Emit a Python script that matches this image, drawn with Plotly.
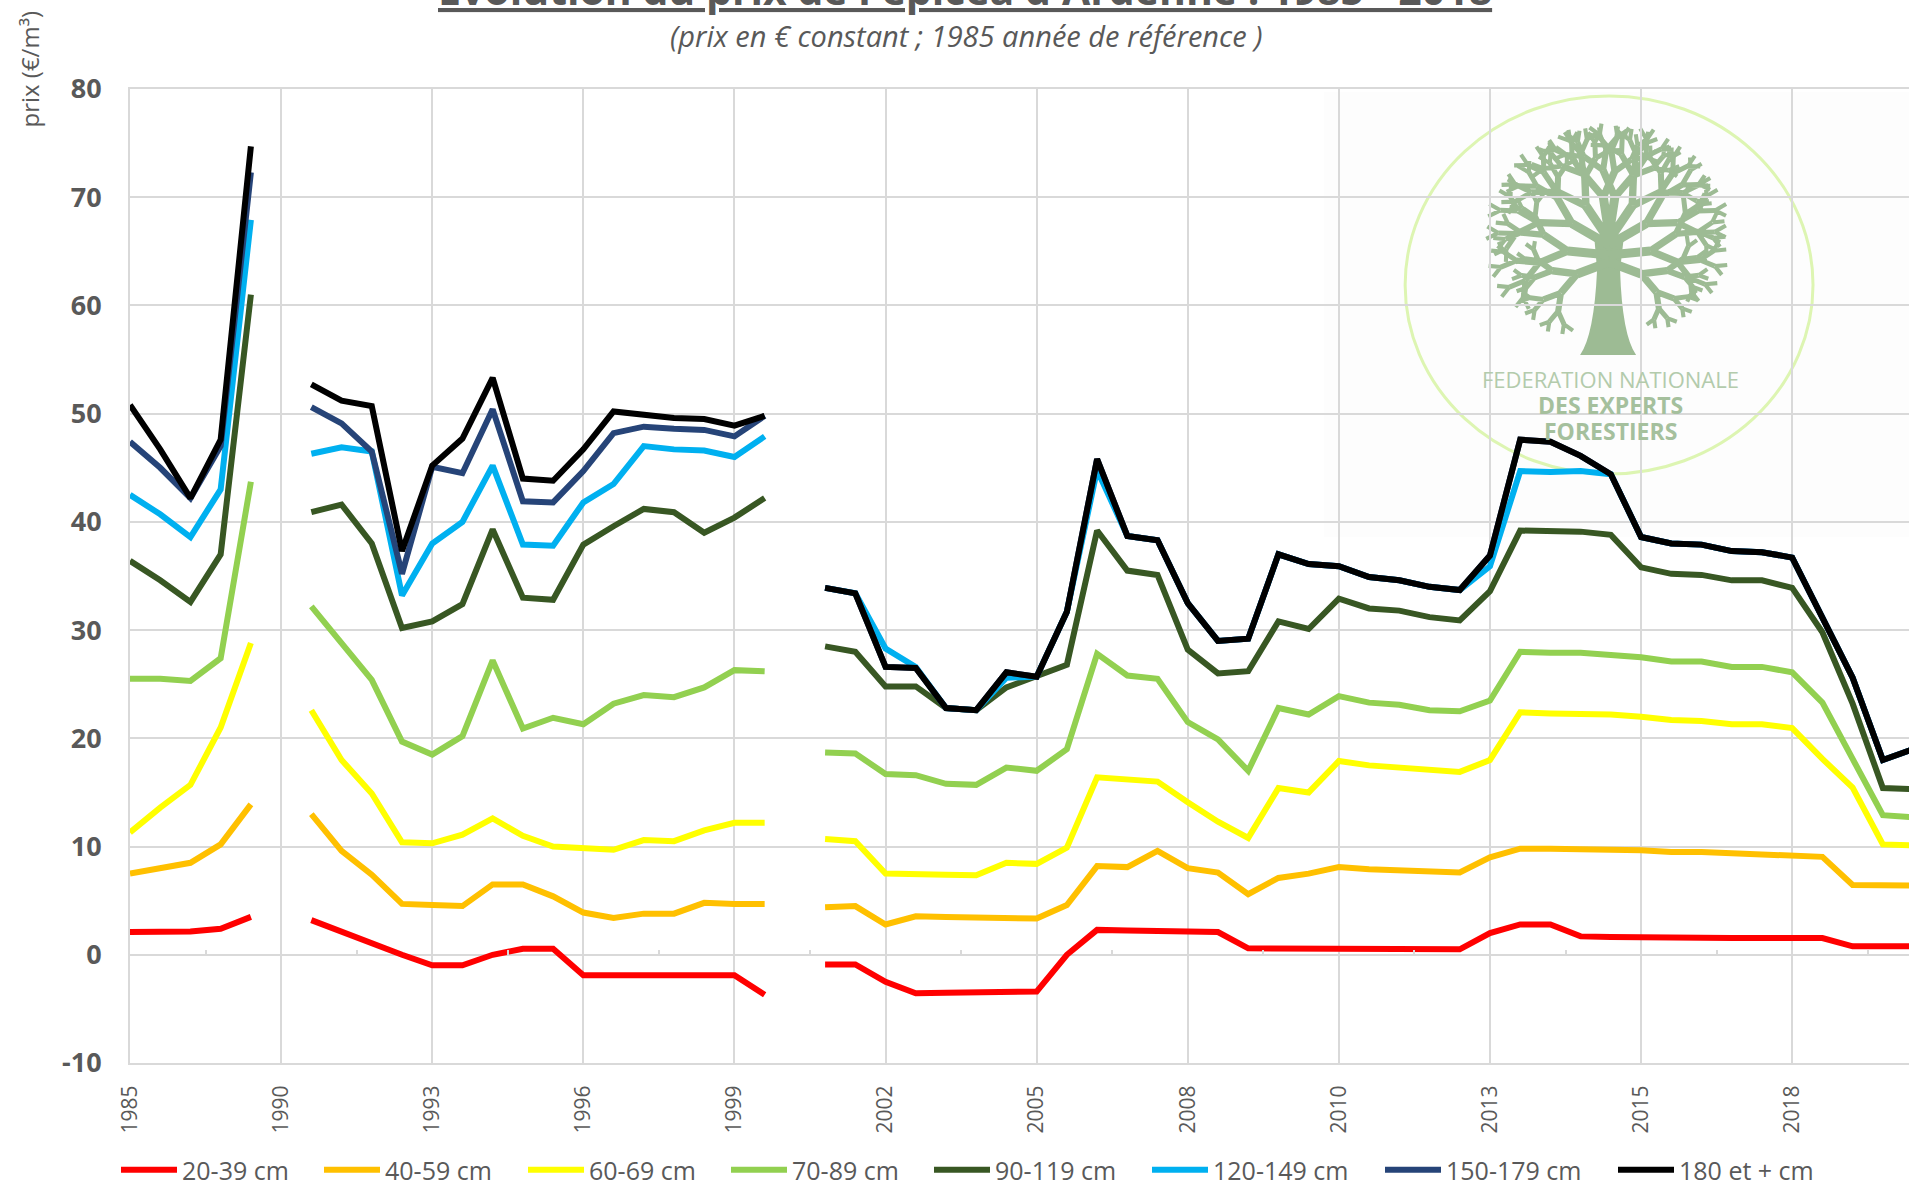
import math
import plotly.graph_objects as go

tick_labels = ["1985","1990","1993","1996","1999","2002","2005","2008","2010","2013","2015","2018"]
tick_index = [0,5,10,15,20,25,30,35,40,45,50,55]
minor_tick_index = [2.5,7.5,12.5,17.5,22.5,27.5,32.5,37.5,42.5,47.5,52.5,57.5]
y_ticks = [-10,0,10,20,30,40,50,60,70,80]
y_tick_labels = ["-10","0","10","20","30","40","50","60","70","80"]
seg1 = list(range(0,5))
seg2 = list(range(6,22))
seg3 = list(range(23,60))
x_index = seg1 + [5] + seg2 + [22] + seg3

red = [2.1,2.15,2.15,2.4,3.5, None,
 3.2,2.1,1.0,0,-0.97,-0.97,0,0.55,0.55,-1.9,-1.9,-1.9,-1.9,-1.9,-1.9,-3.7, None,
 -0.9,-0.9,-2.5,-3.55,-3.5,-3.5,-3.4,-3.4,0,2.3,2.25,2.2,2.15,2.1,0.6,0.6,0.6,0.6,0.55,0.55,0.5,0.5,2.0,2.8,2.8,1.7,1.65,1.6,1.6,1.55,1.55,1.55,1.55,1.55,0.78,0.78,0.78]
orange = [7.5,8.0,8.5,10.2,13.9, None,
 13.0,9.6,7.4,4.7,4.6,4.5,6.5,6.5,5.4,3.9,3.4,3.8,3.8,4.8,4.7,4.7, None,
 4.4,4.5,2.8,3.55,3.5,3.45,3.4,3.35,4.6,8.2,8.1,9.6,8.0,7.6,5.6,7.1,7.5,8.1,7.9,7.8,7.7,7.6,9.0,9.8,9.8,9.8,9.7,9.65,9.5,9.5,9.4,9.35,9.2,9.05,6.45,6.45,6.4]
yellow = [11.3,13.6,15.7,21.0,28.8, None,
 22.6,18.0,14.9,10.4,10.3,11.1,12.6,11.0,10.0,9.8,9.7,10.6,10.5,11.5,12.2,12.2, None,
 10.7,10.5,7.5,7.5,7.4,7.35,8.5,8.4,9.9,16.4,16.2,16.0,14.1,12.3,10.8,15.4,15.0,17.9,17.5,17.3,17.0,16.9,18.0,22.4,22.3,22.3,22.2,22.0,21.7,21.6,21.3,21.3,20.95,18.1,15.45,10.2,10.1]
light_green = [25.5,25.5,25.3,27.4,43.7, None,
 32.2,28.8,25.4,19.7,18.5,20.2,27.2,20.9,21.9,21.3,23.2,24.0,23.8,24.7,26.3,26.2, None,
 18.7,18.6,16.7,16.6,15.8,15.7,17.3,17.0,19.0,27.8,25.8,25.5,21.5,19.9,17.0,22.8,22.2,23.9,23.3,23.1,22.6,22.5,23.5,28.0,27.9,27.9,27.7,27.5,27.1,27.1,26.6,26.6,26.1,23.3,18.1,12.9,12.7]
dark_green = [36.4,34.6,32.6,37.0,61.0, None,
 40.9,41.6,38.0,30.2,30.8,32.4,39.3,33.0,32.8,37.9,39.6,41.2,40.9,39.0,40.4,42.2, None,
 28.5,28.0,24.8,24.8,22.8,22.6,24.7,25.7,26.8,39.2,35.5,35.1,28.2,26.0,26.2,30.8,30.1,32.9,32.0,31.8,31.2,30.9,33.6,39.2,39.1,39.1,38.8,35.8,35.2,35.1,34.6,34.6,33.9,29.8,23.2,15.4,15.3]
cyan = [42.5,40.7,38.6,43.0,67.9, None,
 46.3,46.9,46.5,33.2,38.0,40.0,45.2,37.9,37.8,41.8,43.5,47.0,46.7,46.6,46.0,47.9, None,
 33.9,33.4,28.3,26.6,22.8,22.6,25.6,25.7,31.7,44.8,38.7,38.3,32.5,29.0,29.2,37.0,36.1,35.9,34.9,34.6,34.0,33.7,35.9,44.7,44.6,44.7,44.4,38.6,38.0,37.9,37.3,37.2,36.7,31.0,25.6,18.0,19.0]
navy = [47.4,45.0,42.2,47.0,72.3, None,
 50.6,49.1,46.5,35.2,45.1,44.5,50.4,41.9,41.8,44.7,48.2,48.8,48.6,48.5,47.9,49.8, None,
 33.9,33.4,26.6,26.5,22.8,22.6,26.1,25.7,31.7,45.8,38.7,38.3,32.5,29.0,29.2,37.0,36.1,35.9,34.9,34.6,34.0,33.7,36.9,47.6,47.4,46.1,44.4,38.6,38.0,37.9,37.3,37.2,36.7,31.0,25.6,18.0,19.0]
black = [50.8,46.7,42.2,47.6,74.7, None,
 52.7,51.2,50.7,37.3,45.2,47.7,53.3,44.0,43.8,46.7,50.2,49.9,49.6,49.5,48.9,49.8, None,
 33.9,33.4,26.6,26.5,22.8,22.6,26.1,25.7,31.7,45.8,38.7,38.3,32.5,29.0,29.2,37.0,36.1,35.9,34.9,34.6,34.0,33.7,36.9,47.6,47.4,46.1,44.4,38.6,38.0,37.9,37.3,37.2,36.7,31.0,25.6,18.0,19.0]

names = ["20-39 cm","40-59 cm","60-69 cm","70-89 cm","90-119 cm","120-149 cm","150-179 cm","180 et + cm"]
series = [red,orange,yellow,light_green,dark_green,cyan,navy,black]
colors = ["#FF0000","#FFC000","#FFFF00","#92D050","#385723","#00B0F0","#264478","#000000"]
legend_left = [121,324,528,731,934,1152,1385,1618]

W,H = 1909,1184
L,R,T,B = 129.5,1909,89,1063
GREY = "#595959"
# page pixels -> paper fractions (paper is the plot area)
def px(x): return (x-L)/(R-L)
def py(y): return (B-y)/(B-T)

fig = go.Figure()
for i,(n,s,c) in enumerate(zip(names,series,colors)):
    key = "legend" if i==0 else f"legend{i+1}"
    fig.add_trace(go.Scatter(x=x_index,y=s,name=n,mode="lines",connectgaps=False,
        line=dict(color=c,width=6),legend=key))
fig.add_trace(go.Scatter(x=[None],y=[None],xaxis="x2",showlegend=False,hoverinfo="skip"))

layout_legends = {}
for i,lx in enumerate(legend_left):
    key = "legend" if i==0 else f"legend{i+1}"
    layout_legends[key] = dict(xref="container",yref="container",x=(lx-5)/W,y=1-1170/H,xanchor="left",yanchor="middle",
        orientation="h",itemwidth=56,bgcolor="rgba(0,0,0,0)",tracegroupgap=0,
        font=dict(family="Open Sans",size=25,color=GREY))

# watermark logo
LOGO = "#9DBB94"
shapes = [
 dict(type="rect",xref="paper",yref="paper",x0=px(1324),x1=1,y0=py(537),y1=py(92),
      fillcolor="#FDFDFD",line_width=0,layer="below"),
 dict(type="circle",xref="paper",yref="paper",x0=px(1405),x1=px(1813),y0=py(474),y1=py(96),
      fillcolor="rgba(0,0,0,0)",line=dict(color="#DDF5B2",width=3),layer="below"),
 dict(type="path",xref="paper",yref="paper",layer="below",line_width=0,fillcolor=LOGO,
    path=f"M {px(1580):.5f},{py(355):.5f} Q {px(1594):.5f},{py(335):.5f} {px(1597):.5f},{py(270):.5f} "
         f"L {px(1594):.5f},{py(235):.5f} L {px(1624):.5f},{py(235):.5f} L {px(1620):.5f},{py(270):.5f} "
         f"Q {px(1622):.5f},{py(335):.5f} {px(1636):.5f},{py(355):.5f} Z"),
]
segs = {}
def grow(x,y,ang,ln,w,depth):
    x2 = x+math.sin(math.radians(ang))*ln*1.15
    y2 = y-math.cos(math.radians(ang))*ln*1.06
    segs.setdefault(round(w,1),[]).append(((x,y),(x2,y2)))
    if depth==0: return
    for d,k in ((-30,0.76),(30,0.72)):
        grow(x2,y2,ang+d,ln*k,w*0.82,depth-1)
for a,ln,y0 in [(-112,30,262),(-84,36,255),(-58,38,245),(-32,38,240),(-8,36,235),
                (8,36,235),(32,38,240),(58,38,245),(84,36,255),(112,30,262)]:
    grow(1609,y0,a,ln,9,4)
for w,lst in segs.items():
    path=" ".join(f"M {px(a[0]):.5f},{py(a[1]):.5f} L {px(b[0]):.5f},{py(b[1]):.5f}" for a,b in lst)
    shapes.append(dict(type="path",xref="paper",yref="paper",layer="below",path=path,
        line=dict(color=LOGO,width=w),fillcolor="rgba(0,0,0,0)"))

annotations = [
 dict(text="<b><u>Evolution du prix de l'épicéa d'Ardenne : 1985 - 2018</u></b>",xref="paper",yref="paper",
      x=px(965),y=py(-11),xanchor="center",yanchor="middle",showarrow=False,
      font=dict(family="Open Sans",size=41,color=GREY)),
 dict(text="<i>(prix en € constant ; 1985 année de référence )</i>",xref="paper",yref="paper",
      x=px(966),y=py(35),xanchor="center",yanchor="middle",showarrow=False,
      font=dict(family="Open Sans",size=29,color=GREY)),
 dict(text="prix (€/m³)",xref="paper",yref="paper",x=px(28),y=py(69),textangle=-90,
      xanchor="center",yanchor="middle",showarrow=False,font=dict(family="Open Sans",size=24,color=GREY)),
 dict(text="FEDERATION NATIONALE",xref="paper",yref="paper",x=px(1610),y=py(379),showarrow=False,
      xanchor="center",yanchor="middle",font=dict(family="Open Sans",size=22,color="#B3CBAC")),
 dict(text="<b>DES EXPERTS</b>",xref="paper",yref="paper",x=px(1610),y=py(405),showarrow=False,
      xanchor="center",yanchor="middle",font=dict(family="Open Sans",size=23,color="#A5C09D")),
 dict(text="<b>FORESTIERS</b>",xref="paper",yref="paper",x=px(1610),y=py(431),showarrow=False,
      xanchor="center",yanchor="middle",font=dict(family="Open Sans",size=23,color="#A5C09D")),
]

x_range = [0,(R-L)/30.23]
fig.update_layout(
    width=W,height=H,autosize=False,
    margin=dict(l=L,r=0,t=T,b=H-B,pad=0),
    paper_bgcolor="white",plot_bgcolor="rgba(0,0,0,0)",
    showlegend=True,shapes=shapes,annotations=annotations,
    **layout_legends,
    xaxis=dict(range=x_range,tickmode="array",tickvals=tick_index,ticktext=tick_labels,
        tickangle=-90,showgrid=True,gridcolor="#D9D9D9",gridwidth=2,zeroline=False,
        showline=True,mirror=True,linecolor="#D9D9D9",linewidth=2,ticks="",ticklabelstandoff=12,
        tickfont=dict(family="Open Sans",size=21,color=GREY)),
    xaxis2=dict(range=x_range,overlaying="x",anchor="free",position=10/90,side="bottom",
        tickmode="array",tickvals=minor_tick_index,ticks="inside",ticklen=5,tickwidth=2,tickcolor="#D9D9D9",
        showticklabels=False,showgrid=False,zeroline=False,showline=False),
    yaxis=dict(range=[-10,80],tickmode="array",tickvals=y_ticks,ticktext=y_tick_labels,
        showgrid=True,gridcolor="#D9D9D9",gridwidth=2,
        zeroline=True,zerolinecolor="#D9D9D9",zerolinewidth=2,showline=True,linecolor="#D9D9D9",linewidth=2,
        ticks="",ticklabelstandoff=21,
        tickfont=dict(family="Open Sans",size=27,color=GREY,weight="bold")),
)
fig.write_html("out.html",config={"displayModeBar":False},
    post_script="document.body.style.margin='0';document.documentElement.style.overflow='hidden';")
